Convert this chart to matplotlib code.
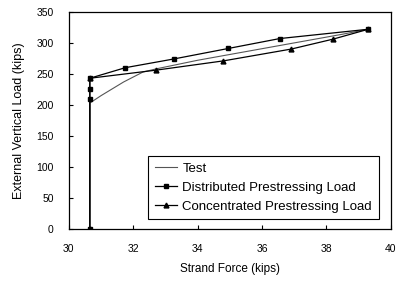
import matplotlib.pyplot as plt

plt.rcParams['font.family'] = ['Liberation Sans', 'DejaVu Sans']

# Test
test_x = [30.65, 30.65, 31.0, 31.7, 32.3, 32.7, 34.0, 35.5, 37.0, 38.5, 39.3]
test_y = [0, 203, 215, 237, 253, 258, 272, 286, 300, 314, 322]

# Distributed prestressing load
dist_x = [30.65, 30.65, 30.65, 30.65, 31.75, 33.25, 34.95, 36.55, 39.3]
dist_y = [0, 210, 226, 243, 260, 274, 291, 307, 322]

# Concentrated prestressing load
conc_x = [30.65, 30.65, 32.7, 34.8, 36.9, 38.2, 39.3]
conc_y = [0, 243, 256, 271, 290, 306, 322]

fig = plt.figure(figsize=(3.96, 2.83), dpi=100)
ax = fig.add_axes([0.174, 0.191, 0.813, 0.767])

ax.plot(test_x, test_y, color='#555555', lw=0.8, label='Test')
ax.plot(dist_x, dist_y, color='black', lw=0.9, marker='s', ms=3.5, label='Distributed Prestressing Load')
ax.plot(conc_x, conc_y, color='black', lw=0.9, marker='^', ms=3.5, label='Concentrated Prestressing Load')

ax.set_xlim(30, 40)
ax.set_ylim(0, 350)
ax.set_xticks([30, 32, 34, 36, 38, 40])
ax.set_yticks(range(0, 351, 50))
ax.tick_params(direction='in', length=3, labelsize=7.5, width=0.8)
ax.tick_params(axis='x', pad=11)
ax.tick_params(axis='y', pad=11)
for s in ax.spines.values():
    s.set_linewidth(0.9)

ax.set_xlabel('Strand Force (kips)', fontsize=8.5, labelpad=6)
ax.set_ylabel('External Vertical Load (kips)', fontsize=9, labelpad=8)

leg = ax.legend(loc='lower right', bbox_to_anchor=(0.962, 0.045), fontsize=9.5,
                fancybox=False, edgecolor='black', framealpha=1,
                handlelength=1.7, handletextpad=0.4, borderpad=0.5,
                labelspacing=0.5, borderaxespad=0)
leg.get_frame().set_linewidth(0.8)

plt.savefig('out.png', dpi=100)
